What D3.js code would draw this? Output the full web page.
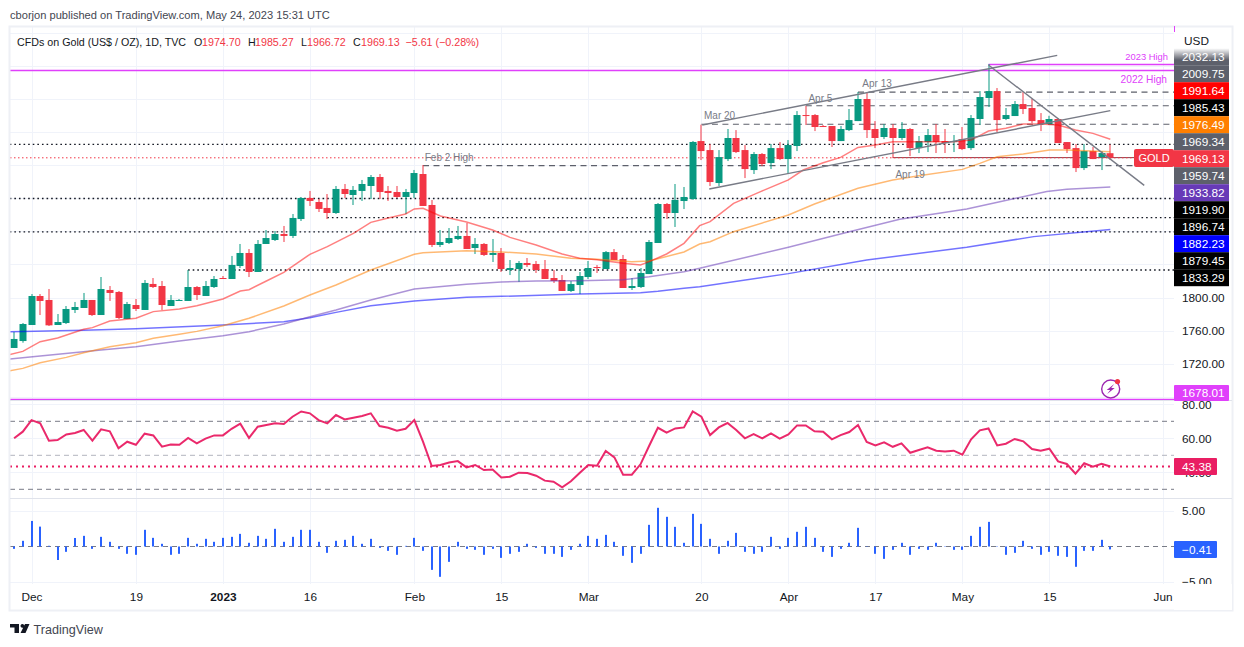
<!DOCTYPE html>
<html>
<head>
<meta charset="utf-8">
<title>CFDs on Gold</title>
<script src="https://cdnjs.cloudflare.com/ajax/libs/d3/7.8.5/d3.min.js"></script>
<style>
  html, body { margin: 0; padding: 0; background: #ffffff; }
  svg { display: block; }
  text { font-family: "Liberation Sans", sans-serif; }
</style>
</head>
<body>
<svg id="chart" width="1244" height="647"></svg>
<script>
(function () {
    "use strict";

    const firstBar = -2;

    const opens = [
        1738.9, 1747.3, 1766.7, 1801.8, 1797, 1766.7, 1769.1, 1784.9, 1787.3, 1797,
        1778.8, 1809.1, 1806.7, 1774, 1790.9, 1784.9, 1816.4, 1813.9, 1789.7, 1795.8,
        1795.8, 1812.7, 1801.8, 1812.7, 1823.6, 1822.4, 1838.1, 1853.9, 1830.9, 1864.8,
        1869.6, 1876.9, 1874.5, 1895, 1920.5, 1915.6, 1908.4, 1902.3, 1931.4, 1924.1,
        1929, 1935, 1945.9, 1929, 1927.7, 1921.7, 1926.5, 1949.5, 1912,
        1863.6, 1866, 1870.8, 1874.5, 1859.9, 1864.8, 1851.5, 1853.9, 1833.3, 1834.5,
        1841.8, 1840.6, 1834.5, 1823.6, 1821.2, 1807.9, 1815.1, 1824.8, 1836.9, 1834.5,
        1855, 1846.6, 1811.5, 1812.7, 1828.4, 1866, 1913.2, 1902.3, 1916.8, 1919.3,
        1989.4, 1978.5, 1938.6, 1967.6, 1993.1, 1978.5, 1954.3, 1973.7, 1962.8, 1980.9,
        1967.6, 1983.4, 2020.9, 2020.9, 2007.6, 2007.6, 1989.4, 2002.7, 2013.6, 2040.3,
        2004, 1994.3, 2005.2, 1993.1, 2004, 1980.9, 1988.2, 1996.7, 1989.4, 1988.2,
        1991.8, 1980.9, 2016.1, 2041.5, 2049.9, 2016.1, 2019.7, 2034.2, 2029.4, 2014.8,
        2010, 2016.1, 1988.2, 1980.9, 1956.7, 1977.3, 1970, 1974.7
    ];
    const highs = [
        1758.2, 1769.1, 1804.2, 1804.2, 1810.3, 1780, 1789.7, 1794.6, 1805.5, 1797,
        1824.8, 1813.9, 1807.9, 1794.6, 1798.2, 1821.2, 1823.6, 1820, 1803, 1798.2,
        1833.3, 1813.9, 1820, 1826, 1826, 1850.3, 1864.8, 1858.7, 1869.6, 1881.7,
        1880.5, 1886.6, 1901.1, 1921.7, 1929, 1919.3, 1925.3, 1935, 1937.4, 1935,
        1942.3, 1948.3, 1949.5, 1935, 1935, 1931.4, 1954.4, 1960.4, 1918.1,
        1881.7, 1884.1, 1886.6, 1890.2, 1872, 1866, 1870.8, 1859.9, 1845.4, 1844.2,
        1847.8, 1844.2, 1845.4, 1833.3, 1827.2, 1820, 1830.9, 1844.2, 1839.3, 1856.3,
        1858.7, 1851.5, 1823.6, 1835.7, 1869.6, 1914.4, 1914.4, 1937.4, 1933.8, 1989.5,
        2009.2, 1985.8, 1978.5, 2004, 2002.7, 1984.6, 1976.1, 1974.9, 1985.8, 1988.2,
        1990.6, 2025.7, 2031.9, 2022.1, 2008.8, 2007.6, 2007.6, 2028.2, 2048.7, 2047.5,
        2013.6, 2010, 2010, 2012.4, 2005.2, 1995.5, 2004, 2010, 2004, 1996.7,
        2006.4, 2020.9, 2049.9, 2082.6, 2053.6, 2029.4, 2037.9, 2048.7, 2040.3, 2023.3,
        2020, 2017.3, 1988.2, 1985.8, 1985.8, 1982.2, 1977.3, 1985.27
    ];
    const lows = [
        1738.9, 1745.3, 1766.7, 1778.8, 1765.5, 1766.7, 1767.9, 1781.2, 1787.3, 1777.6,
        1778.8, 1795.8, 1774, 1774, 1783.7, 1784.9, 1811.5, 1784.9, 1789.7, 1795.8,
        1795.8, 1797, 1801.8, 1811.5, 1822.4, 1822.4, 1835.7, 1824.8, 1830.9, 1864.8,
        1868.4, 1867.2, 1872, 1892.6, 1910.8, 1903.5, 1895, 1901.1, 1920.5, 1912,
        1916.9, 1919.3, 1919.3, 1916.9, 1920.5, 1901.1, 1920.5, 1910.8, 1861.1,
        1861.1, 1864.8, 1869.6, 1858.7, 1852.7, 1850.2, 1843, 1830.9, 1827.2, 1818.8,
        1836.9, 1829.7, 1822.4, 1817.6, 1807.9, 1806.7, 1804.2, 1822.4, 1829.7, 1834.5,
        1845.4, 1811.5, 1809.1, 1811.5, 1828.4, 1866, 1895, 1885.4, 1907.1, 1918.1,
        1966.4, 1934.9, 1934.9, 1965.2, 1974.9, 1944.6, 1949.5, 1959.1, 1955.5, 1966.4,
        1949.5, 1977.3, 2008.8, 2001.5, 2006.4, 1982.2, 1989.4, 2001.5, 2013.6, 1993.1,
        1980.9, 1991.8, 1968.8, 1990.6, 1971.2, 1974.9, 1976.1, 1974.9, 1974.9, 1976.1,
        1978.5, 1978.5, 2008.8, 2030.6, 2000.3, 2014.8, 2019.7, 2022.1, 2011.2, 2001.5,
        2010, 1987, 1974.9, 1951.9, 1954.3, 1967.6, 1954.3, 1966.72
    ];
    const closes = [
        1749.8, 1767.9, 1801.8, 1795.8, 1766.3, 1770.3, 1786.1, 1788.5, 1797, 1778.8,
        1810.3, 1805.5, 1775.2, 1792.1, 1786.1, 1817.6, 1812.7, 1790.9, 1797, 1797,
        1812.7, 1803, 1813.9, 1822.4, 1822.4, 1839.4, 1853.9, 1830.9, 1864.8, 1872,
        1876.9, 1874.5, 1896.3, 1920.5, 1916.9, 1907.2, 1902.3, 1931.4, 1925.3, 1930.2,
        1937.4, 1945.9, 1927.7, 1926.5, 1921.7, 1927.7, 1950.7, 1910.8, 1863.6,
        1867.2, 1872, 1874.5, 1858.7, 1864.8, 1851.5, 1853.9, 1834.5, 1835.7, 1841.8,
        1839.3, 1833.3, 1822.4, 1820, 1807.9, 1816.3, 1826, 1835.7, 1835.7, 1855,
        1845.4, 1811.5, 1813.9, 1829.7, 1867.2, 1913.2, 1902.3, 1918.1, 1921.7, 1988.3,
        1977.3, 1939.8, 1970, 1993.1, 1976.1, 1955.5, 1973.7, 1961.6, 1980.9, 1967.6,
        1984.6, 2020.9, 2020.5, 2006.4, 2006.4, 1989.4, 2004, 2014.8, 2040.3, 2002.7,
        1993.1, 2005.2, 1993.1, 2004, 1980.9, 1989.4, 1996.7, 1988.2, 1987, 1989.4,
        1979.7, 2017.3, 2042.7, 2049.9, 2014.8, 2020.9, 2034.2, 2028.2, 2013.6, 2010,
        2016.1, 1987, 1979.7, 1956.7, 1977.3, 1967.6, 1974.9, 1969.13
    ];

    // moving averages, read at the bends of each line: [bar, price]
    const ema20 = [
        [-2.5, 1730.8], [-1, 1734.8], [1, 1746.5], [3, 1751], [6, 1761.5], [7, 1763.5], [9, 1771.6], [12, 1774.8],
        [14, 1782.9], [17, 1786.1], [19, 1790.1], [22, 1798.2], [24, 1807.9], [25, 1809.5], [27, 1820], [29, 1830.5],
        [32, 1852.3], [34, 1861.6], [37, 1877.7], [39, 1891], [41, 1896.3], [43, 1901.1], [44, 1907.2], [45, 1908],
        [47, 1898.7], [50, 1891.4], [53, 1881.7], [55, 1872.8], [58, 1863.6], [61, 1852.7], [63, 1847.4], [65, 1845.8],
        [68, 1841.4], [70, 1839.3], [71, 1843.4], [73, 1852.7], [75, 1865.6], [76.8, 1887], [78, 1891.9], [80.7, 1914],
        [83.8, 1928.2], [87, 1942.3], [88.7, 1954.3], [91, 1963.2], [93, 1969.6], [95, 1981.7], [97, 1984.6], [99, 1988.6],
        [106, 1988.6], [108, 1990.6], [110, 2001.5], [112, 2004.8], [114, 2010], [116, 2010], [118, 2008.8], [120, 2002.7],
        [122, 1998.7], [124, 1991.64]
    ];
    const ema50 = [
        [-2.5, 1711.4], [-1, 1714.2], [1, 1721.1], [4, 1727.5], [6, 1733.2], [9, 1740.5], [12, 1745.3], [14, 1750.6],
        [17, 1755.4], [19, 1759], [22, 1765.9], [25, 1774.8], [29, 1789.7], [32, 1803], [35, 1815.1], [39, 1833.3],
        [44, 1852.3], [45, 1854.3], [50, 1856.7], [54, 1855.1], [58, 1852.7], [62, 1847.4], [65, 1846.2], [69, 1843.4],
        [71, 1844.2], [75, 1855.1], [76.8, 1864.8], [78, 1867.6], [80.7, 1879.7], [87, 1899.9], [90, 1913.2], [95, 1932.2],
        [99, 1942.3], [102, 1947.4], [107, 1955.1], [109, 1962.4], [111, 1970.4], [114, 1973.7], [117, 1978.5], [119, 1978.5],
        [124, 1976.49]
    ];
    const ema100 = [
        [-2.5, 1725.5], [1, 1729.2], [8, 1736.4], [12, 1740.5], [17, 1747.3], [22, 1753.8], [25, 1758.6], [29, 1767.9],
        [32, 1776.8], [35, 1784.9], [39, 1797], [44, 1810.3], [50, 1815.9], [54, 1818.8], [58, 1820], [63, 1820.4],
        [68, 1821.6], [71, 1825.2], [75, 1831.3], [76.8, 1835.3], [87, 1860.8], [94, 1879.7], [99.8, 1894.7], [107.5, 1907.2],
        [111.3, 1916], [116.7, 1928.2], [119, 1931], [124, 1933.82]
    ];
    const ema200 = [
        [-2.5, 1758.6], [6, 1760.3], [12, 1762.3], [22, 1766.7], [29, 1770.7], [32, 1775.6], [35, 1782], [39, 1790.1],
        [44, 1795.8], [50, 1800.2], [54, 1801.4], [63, 1804.2], [70, 1805.8], [72, 1807.5], [75, 1811.1], [76.8, 1813.1],
        [87, 1828.9], [96, 1845.4], [107.5, 1860.8], [115.2, 1873.7], [124, 1882.23]
    ];

    const rsi = [
        60, 63.9, 70.7, 68.8, 58.6, 59, 62.3, 63.1, 64.9, 58.6,
        65.3, 64.1, 54.1, 58, 56.2, 62.7, 61.7, 55.1, 56.4, 56.2,
        60.2, 57, 59.8, 61.7, 61.7, 65.6, 68.6, 60.2, 66.8, 67.8,
        68.8, 68.4, 72.7, 75.8, 74.7, 70.7, 68.8, 73.7, 71.1, 72.1,
        73.1, 74.7, 67.2, 66.2, 64.5, 65.6, 70.7, 58, 43.7, 44.3,
        45.8, 46.6, 42.9, 44.3, 41.3, 41.7, 37, 37.4, 39.8, 39.6,
        38, 35.1, 34.5, 31.2, 34.7, 39.6, 44.3, 43.9, 52.5, 48.8,
        38.6, 38.6, 44.7, 55.6, 66.2, 63.3, 65.8, 66.4, 75.8, 72.7,
        61.9, 66.4, 69, 64.9, 60, 62.5, 60, 62.9, 59.8, 62.3,
        67.6, 67.6, 64.1, 63.9, 59.4, 61.9, 63.7, 67.8, 57.8, 55.8,
        57.6, 55, 57, 51.5, 53.1, 54.7, 52.7, 52.3, 52.7, 50.4,
        59.4, 64.7, 65.8, 55.8, 56.8, 59.6, 58.2, 53.7, 52.7, 53.9,
        46.4, 44.9, 39.2, 45.3, 43.3, 45, 43.38
    ];
    const macdHist = [
        -0.33, 0.8, 3.6, 2.8, 0.1, -1.9, -0.75, 1.2, 1.5, -0.33,
        1.36, 0.66, -0.33, -1.03, -1.17, 2.35, 1.22, 0.38, -1.17, -1.03,
        1.22, 0.38, 1.08, 0.66, 1.22, 1.36, 1.78, 0.52, 1.5, 1.08,
        2.49, 0.66, 1.36, 2.35, 2.35, 0.66, -0.89, 0.8, 0.94, 1.5,
        0.38, 1.08, -0.19, -0.61, -1.17, 0.09, 1.22, -0.61, -3.29, -4.27,
        -2.16, 0.66, -0.33, -0.47, -1.17, -0.33, -1.6, -1.03, -0.75, 0.38,
        -0.19, -1.03, -1.03, -1.46, -0.47, 0.38, 1.5, 1.08, 1.64, 0.66,
        -1.31, -2.3, -1.03, 3.05, 5.45, 4.18, 2.77, 0.52, 4.6, 3.19,
        1.08, -1.03, 0.8, 1.92, -0.75, -1.03, -0.75, 1.36, -0.33, 1.22,
        2.07, 2.77, 1.22, -0.75, -1.46, -0.33, 0.52, 2.63, -0.05, -1.03,
        -1.74, -0.47, 0.52, -1.17, -0.33, -0.47, 0.52, -0.05, -0.47, -0.47,
        1.5, 2.77, 3.47, -0.05, -1.17, -0.89, 0.8, -0.33, -1.17, -0.75,
        -1.31, -1.46, -2.86, -0.61, -0.61, 0.94, -0.41
    ];

    const timeTicks = [0, 12, 22, 32, 44, 54, 64, 77, 87, 97, 107, 117, 130];
    const timeLabels = ["Dec", "19", "2023", "16", "Feb", "15", "Mar", "20", "Apr", "17", "May", "15", "Jun"];
    const priceGrid = [1680, 1720, 1760, 1800, 1840, 1880, 1920, 1960, 2000, 2040, 2080, 2120];
    const priceTicks = [1720, 1760, 1800];
    const rsiGrid = [40, 60, 80];
    const rsiBands = [70, 50, 30];
    const macdGrid = [-5, 5];

    // horizontal levels drawn on the chart: [from bar, price]
    const dottedLevels = [[-2.5, 1985.43], [-2.5, 1919.9], [-2.5, 1879.45], [18, 1833.29], [34, 1896.74]];
    const dashedLevels = [[95, 2048.7], [89, 2032.13], [77, 2009.75], [45, 1959.74]];
    const swingNotes = [
        { name: "Feb 2 High", bar: 45.2, price: 1969.5 },
        { name: "Mar 20", bar: 77.3, price: 2020.5 },
        { name: "Apr 5", bar: 89.3, price: 2041 },
        { name: "Apr 13", bar: 95.5, price: 2058.5 },
        { name: "Apr 19", bar: 99.3, price: 1949 }
    ];
    const trendLines = [
        [[77.1, 2008.8], [117.9, 2093.2]],
        [[77.9, 1931.4], [124, 2026.2]],
        [[110, 2081.5], [127.9, 1935.8]]
    ];

    // stacked price labels on the right axis
    const axisTags = [
        { text: "2032.13", fill: "url(#fadeTop)" },
        { text: "2009.75", fill: "#5d606b" },
        { text: "1991.64", fill: "#ff0000" },
        { text: "1985.43", fill: "#000000" },
        { text: "1976.49", fill: "#ff7f00" },
        { text: "1969.34", fill: "#5d606b" },
        { text: "1969.13", fill: "#f23645" },
        { text: "1959.74", fill: "#5d606b" },
        { text: "1933.82", fill: "#673ab7" },
        { text: "1919.90", fill: "#000000" },
        { text: "1896.74", fill: "#000000" },
        { text: "1882.23", fill: "#0000ff" },
        { text: "1879.45", fill: "#000000" },
        { text: "1833.29", fill: "#000000" }
    ];

    const up = "#089981";
    const down = "#f23645";
    const gridColor = "#f0f3fa";
    const magenta = "#e040fb";
    const frame = { left: 10, right: 1174, top: 27, bottom: 584 };

    const bars = opens.map((o, i) => ({
        bar: i + firstBar, o, h: highs[i], l: lows[i], c: closes[i], rsi: rsi[i], hist: macdHist[i]
    }));

    const x = d3.scaleLinear().domain([0, 130]).range([31.5, 1162.5]);
    const yPrice = d3.scaleLinear().domain([1800, 2000]).range([297.5, 132.3]);
    const yRsi = d3.scaleLinear().domain([30, 70]).range([489.3, 421.3]);
    const yMacd = d3.scaleLinear().domain([-5, 5]).range([582, 511]);

    const svg = d3.select("#chart");

    const defs = svg.append("defs");
    const fade = defs.append("linearGradient").attr("id", "fadeTop").attr("x1", 0).attr("x2", 0).attr("y1", 0).attr("y2", 1);
    fade.append("stop").attr("offset", "0%").attr("stop-color", "#ffffff");
    fade.append("stop").attr("offset", "70%").attr("stop-color", "#5d606b");
    const clips = [["clipMain", 27, 400], ["clipRsi", 401, 498], ["clipMacd", 499, 584]];
    clips.forEach(([id, top, bottom]) => {
        defs.append("clipPath").attr("id", id).append("rect")
            .attr("x", frame.left).attr("y", top)
            .attr("width", frame.right - frame.left).attr("height", bottom - top);
    });

    svg.append("rect").attr("width", 1244).attr("height", 647).attr("fill", "#ffffff");

    // header
    svg.append("text").attr("x", 10).attr("y", 19).attr("font-size", 11.1).attr("fill", "#434651")
        .text("cborjon published on TradingView.com, May 24, 2023 15:31 UTC");

    // grid
    const grid = svg.append("g").attr("stroke", gridColor).attr("stroke-width", 1);
    grid.selectAll("line.v").data(timeTicks).join("line").attr("class", "v")
        .attr("x1", (d) => Math.round(x(d)) + 0.5).attr("x2", (d) => Math.round(x(d)) + 0.5)
        .attr("y1", frame.top).attr("y2", frame.bottom);
    grid.selectAll("line.p").data(priceGrid).join("line").attr("class", "p")
        .attr("x1", frame.left).attr("x2", frame.right)
        .attr("y1", (d) => Math.round(yPrice(d)) + 0.5).attr("y2", (d) => Math.round(yPrice(d)) + 0.5);
    grid.selectAll("line.r").data(rsiGrid).join("line").attr("class", "r")
        .attr("x1", frame.left).attr("x2", frame.right)
        .attr("y1", (d) => Math.round(yRsi(d)) + 0.5).attr("y2", (d) => Math.round(yRsi(d)) + 0.5);
    grid.selectAll("line.m").data(macdGrid).join("line").attr("class", "m")
        .attr("x1", frame.left).attr("x2", frame.right)
        .attr("y1", (d) => Math.round(yMacd(d)) + 0.5).attr("y2", (d) => Math.round(yMacd(d)) + 0.5);

    // main pane
    const main = svg.append("g").attr("clip-path", "url(#clipMain)");

    const levelLine = (g, data, style) => g.selectAll(null).data(data).join("line")
        .attr("x1", (d) => x(d[0])).attr("x2", frame.right)
        .attr("y1", (d) => yPrice(d[1])).attr("y2", (d) => yPrice(d[1]))
        .attr("stroke", style.stroke).attr("stroke-width", style.width)
        .attr("stroke-dasharray", style.dash);

    levelLine(main, dottedLevels, { stroke: "#131722", width: 1.4, dash: "1.6 3" });
    levelLine(main, dashedLevels, { stroke: "#5d606b", width: 1.2, dash: "6 4.5" });
    levelLine(main, [[99, 1969.34]], { stroke: "#8a3a44", width: 1, dash: null });

    // last price line
    main.append("line")
        .attr("x1", frame.left).attr("x2", frame.right - 40)
        .attr("y1", yPrice(closes[closes.length - 1])).attr("y2", yPrice(closes[closes.length - 1]))
        .attr("stroke", down).attr("stroke-width", 1).attr("stroke-dasharray", "1.5 2.5");

    // 2022 / 2023 highs and the low at the bottom of the pane
    const highLevels = [[110, 2082], [-2.5, 2074.8], [-2.5, 1676.6]];
    levelLine(main, highLevels, { stroke: magenta, width: 1.4, dash: null });

    const candles = main.append("g").selectAll("g").data(bars).join("g")
        .attr("fill", (d) => (d.c >= d.o ? up : down))
        .attr("stroke", "none");
    candles.append("rect")
        .attr("x", (d) => Math.round(x(d.bar)) - 0.5).attr("width", 1)
        .attr("y", (d) => yPrice(d.h)).attr("height", (d) => yPrice(d.l) - yPrice(d.h));
    candles.append("rect")
        .attr("x", (d) => Math.round(x(d.bar)) - 3.5).attr("width", 7)
        .attr("y", (d) => yPrice(Math.max(d.o, d.c)))
        .attr("height", (d) => Math.max(1, Math.abs(yPrice(d.o) - yPrice(d.c))));

    const emaLine = d3.line().x((d) => x(d[0])).y((d) => yPrice(d[1]));
    const emaSeries = [
        [ema200, "#0000ff", 0.55],
        [ema100, "#673ab7", 0.55],
        [ema50, "#ff7f00", 0.55],
        [ema20, "#ff0000", 0.5]
    ];
    main.selectAll(null).data(emaSeries).join("path")
        .attr("d", (d) => emaLine(d[0]))
        .attr("fill", "none").attr("stroke", (d) => d[1])
        .attr("stroke-width", 1.5).attr("stroke-opacity", (d) => d[2]);

    main.selectAll(null).data(trendLines).join("line")
        .attr("x1", (d) => x(d[0][0])).attr("y1", (d) => yPrice(d[0][1]))
        .attr("x2", (d) => x(d[1][0])).attr("y2", (d) => yPrice(d[1][1]))
        .attr("stroke", "#787b86").attr("stroke-width", 1.4);

    main.selectAll(null).data(swingNotes).join("text")
        .attr("x", (d) => x(d.bar)).attr("y", (d) => yPrice(d.price))
        .attr("dy", "0.35em").attr("font-size", 10).attr("fill", "#787b86")
        .text((d) => d.name);

    svg.append("text").attr("x", 1168).attr("y", 57).attr("text-anchor", "end")
        .attr("font-size", 9.4).attr("fill", magenta).attr("dy", "0.35em").text("2023 High");
    svg.append("text").attr("x", 1167).attr("y", 79).attr("text-anchor", "end")
        .attr("font-size", 10.2).attr("fill", magenta).attr("dy", "0.35em").text("2022 High");

    // trading idea badge
    const badge = svg.append("g").attr("transform", "translate(1110.7,389)");
    badge.append("circle").attr("r", 9).attr("fill", "#ffffff").attr("stroke", "#9c27b0").attr("stroke-width", 1.4);
    badge.append("path").attr("d", "M3.5,-5 L-4,1 L-0.5,1 L-3.5,5 L4,-1 L0.5,-1 Z").attr("fill", "#9c27b0");
    badge.append("circle").attr("cx", 6.8).attr("cy", -7.5).attr("r", 2.6).attr("fill", "#f23645");

    // RSI pane
    const rsiPane = svg.append("g").attr("clip-path", "url(#clipRsi)");
    rsiPane.selectAll(null).data(rsiBands).join("line")
        .attr("x1", frame.left).attr("x2", frame.right)
        .attr("y1", (d) => yRsi(d)).attr("y2", (d) => yRsi(d))
        .attr("stroke", (d) => (d === 50 ? "#b2b5be" : "#787b86"))
        .attr("stroke-width", 1).attr("stroke-dasharray", "5 4");
    rsiPane.append("line")
        .attr("x1", frame.left).attr("x2", frame.right)
        .attr("y1", yRsi(rsi[rsi.length - 1])).attr("y2", yRsi(rsi[rsi.length - 1]))
        .attr("stroke", "#e91e63").attr("stroke-width", 2).attr("stroke-dasharray", "2 4");
    rsiPane.append("path")
        .datum(bars)
        .attr("d", d3.line().x((d) => x(d.bar)).y((d) => yRsi(d.rsi)))
        .attr("fill", "none").attr("stroke", "#e91e63").attr("stroke-width", 2).attr("stroke-opacity", 0.95);

    // MACD pane
    const macdPane = svg.append("g").attr("clip-path", "url(#clipMacd)");
    macdPane.append("line")
        .attr("x1", frame.left).attr("x2", frame.right)
        .attr("y1", yMacd(0)).attr("y2", yMacd(0))
        .attr("stroke", "#787b86").attr("stroke-width", 1).attr("stroke-dasharray", "5 4");
    macdPane.selectAll("rect").data(bars).join("rect")
        .attr("x", (d) => Math.round(x(d.bar)) - 1).attr("width", 2)
        .attr("y", (d) => Math.min(yMacd(d.hist), yMacd(0)))
        .attr("height", (d) => Math.abs(yMacd(d.hist) - yMacd(0)))
        .attr("fill", "#2962ff");

    // frame and pane separators
    svg.append("rect")
        .attr("x", 9.5).attr("y", 26.5).attr("width", 1223).attr("height", 584)
        .attr("fill", "none").attr("stroke", "#eef0f5").attr("stroke-width", 2);
    const separators = svg.append("g").attr("stroke", "#e0e3eb").attr("stroke-width", 1);
    separators.selectAll("line").data([400.5, 498.5]).join("line")
        .attr("x1", frame.left).attr("x2", 1232)
        .attr("y1", (d) => d).attr("y2", (d) => d);

    // axes
    const tidy = (g) => {
        g.select(".domain").remove();
        g.selectAll(".tick line").remove();
    };
    const axisText = (g) => g.selectAll("text")
        .attr("fill", "#131722").attr("font-size", 11.8)
        .style("font-family", '"Liberation Sans", sans-serif');

    svg.append("g").attr("transform", "translate(0,590)")
        .call(d3.axisBottom(x).tickValues(timeTicks).tickFormat((d, i) => timeLabels[i]).tickSize(0))
        .call(tidy).call(axisText)
        .selectAll("text")
        .attr("font-weight", (d) => (d === 22 ? 700 : 400));

    const yTicks = (scale, values) => d3.axisRight(scale).tickValues(values).tickFormat(d3.format(".2f")).tickSize(0).tickPadding(0);
    svg.append("g").attr("transform", "translate(1182,0)")
        .call(yTicks(yPrice, priceTicks)).call(tidy).call(axisText);
    svg.append("g").attr("transform", "translate(1182,0)")
        .call(yTicks(yRsi, [40, 60, 80])).call(tidy).call(axisText);
    svg.append("g").attr("transform", "translate(1182,0)")
        .call(yTicks(yMacd, [-5, 5])).call(tidy).call(axisText);
    // anything under the time axis row of the right column stays hidden
    svg.append("rect").attr("x", 1174).attr("y", 584).attr("width", 58).attr("height", 26).attr("fill", "#ffffff");

    svg.append("text").attr("x", 1184).attr("y", 41).attr("dy", "0.35em")
        .attr("font-size", 11.8).attr("fill", "#131722").text("USD");
    svg.append("line").attr("x1", 1174.5).attr("x2", 1174.5).attr("y1", 26).attr("y2", 32)
        .attr("stroke", magenta).attr("stroke-width", 1);

    const tagRow = d3.scaleLinear().domain([0, 13]).range([48.2, 269.2]);
    const tags = svg.append("g").selectAll("g").data(axisTags).join("g")
        .attr("transform", (d, i) => `translate(1174,${tagRow(i)})`);
    tags.append("rect").attr("width", 55).attr("height", 17).attr("fill", (d) => d.fill);
    tags.append("text").attr("x", 8).attr("y", 8.5).attr("dy", "0.35em")
        .attr("font-size", 11.8).attr("fill", "#ffffff").text((d) => d.text);

    const paneTag = (value, fill, width, top, height) => {
        const g = svg.append("g").attr("transform", `translate(1174,${top})`);
        g.append("rect").attr("width", width).attr("height", height).attr("fill", fill).attr("rx", 1);
        g.append("text").attr("x", 8).attr("y", height / 2).attr("dy", "0.35em")
            .attr("font-size", 11.8).attr("fill", "#ffffff").text(value);
    };
    paneTag("1678.01", magenta, 55, 385, 16);
    paneTag(d3.format(".2f")(rsi[rsi.length - 1]), "#e91e63", 43, 458, 17);
    paneTag(d3.format(".2f")(macdHist[macdHist.length - 1]), "#2962ff", 43, 541, 17);

    const gold = svg.append("g").attr("transform", "translate(1134,149)");
    gold.append("rect").attr("width", 40).attr("height", 18).attr("rx", 2).attr("fill", down);
    gold.append("text").attr("x", 20).attr("y", 9).attr("dy", "0.35em").attr("text-anchor", "middle")
        .attr("font-size", 11).attr("fill", "#ffffff").text("GOLD");

    // legend
    const legend = svg.append("g").attr("font-size", 10.7);
    const legendParts = [
        { x: 17, text: "CFDs on Gold (US$ / OZ), 1D, TVC", fill: "#131722" },
        { x: 194, text: "O", fill: "#131722" },
        { x: 202, text: "1974.70", fill: down },
        { x: 248, text: "H", fill: "#131722" },
        { x: 255, text: "1985.27", fill: down },
        { x: 301, text: "L", fill: "#131722" },
        { x: 307, text: "1966.72", fill: down },
        { x: 353, text: "C", fill: "#131722" },
        { x: 361, text: "1969.13", fill: down },
        { x: 405.5, text: "\u22125.61 (\u22120.28%)", fill: down }
    ];
    legend.selectAll("text").data(legendParts).join("text")
        .attr("x", (d) => d.x).attr("y", 42).attr("dy", "0.35em")
        .attr("fill", (d) => d.fill).text((d) => d.text);

    // TradingView mark
    svg.append("path")
        .attr("d", "M10,624 H19 V633 H14.5 V627.6 H10 Z M22.4,624 A1.9,1.9 0 1 1 22.39,624 Z M25,624 H29.5 L25.5,633 H20.5 Z")
        .attr("fill", "#131722");
    svg.append("text").attr("x", 33.5).attr("y", 629.5).attr("dy", "0.35em")
        .attr("font-size", 12.6).attr("fill", "#434651").text("TradingView");
})();
</script>
</body>
</html>
